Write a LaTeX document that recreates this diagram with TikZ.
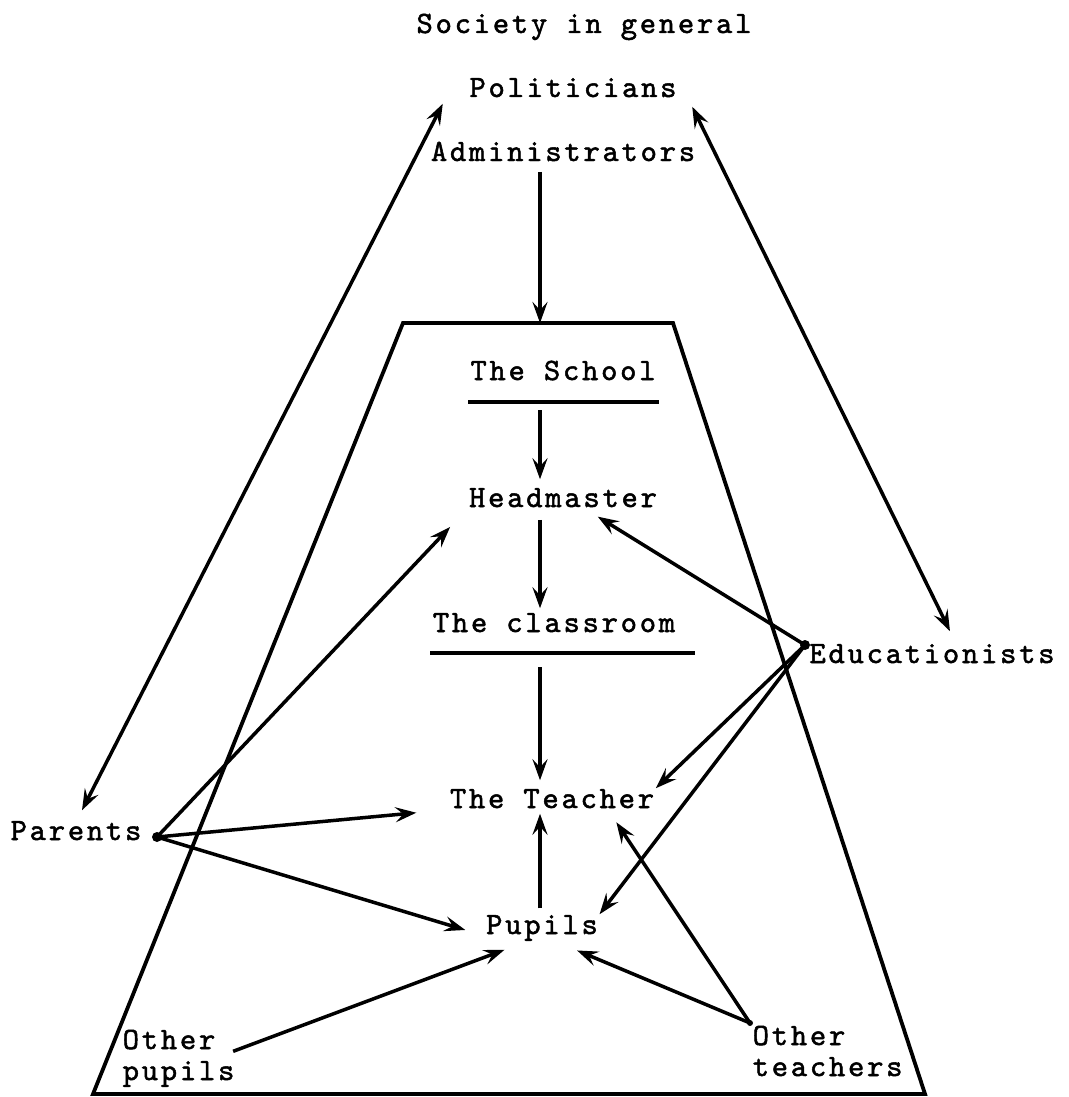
\documentclass[tikz,border=0pt]{standalone}
\usepackage{fontspec}
\setmonofont{lmmono10-regular}[Extension=.otf,LetterSpace=9,FakeBold=1.6]
\usetikzlibrary{arrows.meta}

\begin{document}
\begin{tikzpicture}[x=1pt, y=-1pt, line width=3.5pt,
  lbl/.style={font=\ttfamily\fontsize{31}{31}\selectfont, inner sep=0pt,
    text height=18pt, text depth=0pt, anchor=base},
  lbltwo/.style={font=\ttfamily\fontsize{31}{31}\selectfont, inner sep=0pt,
    align=left, anchor=north west},
  arr/.style={-{Stealth[length=21pt,width=15pt,inset=8pt]}},
  dbl/.style={{Stealth[length=21pt,width=15pt,inset=8pt]}-{Stealth[length=21pt,width=15pt,inset=8pt]}}]

\useasboundingbox (0,0) rectangle (1068,1097);

\node[lbl] (soc) at (584,33) {Society in general};
\node[lbl] (pol) at (573,97) {Politicians};
\node[lbl] (adm) at (563,161) {Administrators};

\node[lbl] (school) at (563,380) {The School};
\node[lbl] (head) at (563,507) {Headmaster};
\node[lbl] (class) at (554,632) {The classroom};
\node[lbl] (teach) at (552,808) {The Teacher};
\node[lbl] (pup) at (542,934) {Pupils};

\node[lbl] (par) at (76,840) {Parents};
\node[lbl] (edu) at (932,663) {Educationists};
\node[lbltwo] (opup) at (121,1028) {Other\\pupils};
\node[lbltwo] (otea) at (751,1024) {Other\\teachers};

\coordinate (spine) at (540,0);
\coordinate (pard) at (157,837);
\coordinate (edud) at (805,645);
\coordinate (oted) at (750,1023);

% the school
\coordinate (tl) at (403,323);
\coordinate (tr) at (673,323);
\coordinate (br) at (925,1094);
\coordinate (bl) at (93,1094);
\draw[line width=3.8pt] (tl) -- (tr) -- (br) -- (bl) -- cycle;

\draw (468,402) coordinate (sl) -- (659,402);
\draw (430,653) coordinate (cl) -- (695,653);

% down the middle
\draw[arr, shorten <=9pt] (adm.south -| spine) -- (tl -| spine);
\draw[arr, shorten <=8pt, shorten >=8pt] (sl -| spine) -- (head.north -| spine);
\draw[arr, shorten <=11pt, shorten >=4pt] (head.south -| spine) -- (class.north -| spine);
\draw[arr, shorten <=14pt, shorten >=8pt] (cl -| spine) -- (teach.north -| spine);
\draw[arr, shorten <=6pt, shorten >=4pt] (pup.north -| spine) -- (teach.south -| spine);

% parents
\fill (pard) circle (5pt);
\draw[arr, shorten >=25pt] (pard) -- (head.south west);
\draw[arr, shorten >=32pt] (pard) -- (teach.south west);
\draw[arr, shorten >=20pt] (pard) -- (pup.south west);

% educationists
\fill (edud) circle (5pt);
\draw[arr, shorten >=15pt] (edud) -- ([xshift=22pt]head.south);
\draw[arr] (edud) -- (teach.north east);
\draw[arr] (edud) -- (pup.north east);

% others
\fill (oted) circle (3pt);
\draw[arr, shorten >=15pt] (oted) -- ([xshift=56pt]teach.south);
\draw[arr, shorten >=38pt] (oted) -- (pup.south);
\draw[arr, shorten >=40pt] ([shift={(-3,-7)}]opup.east) -- (pup.south);

% politicians
\draw[dbl] ([shift={(6,-10)}]par.north) -- ([shift={(-25,5)}]pol.south west);
\draw[dbl] ([shift={(14,8)}]pol.south east) -- ([shift={(18,-12)}]edu.north);

\end{tikzpicture}
\end{document}
